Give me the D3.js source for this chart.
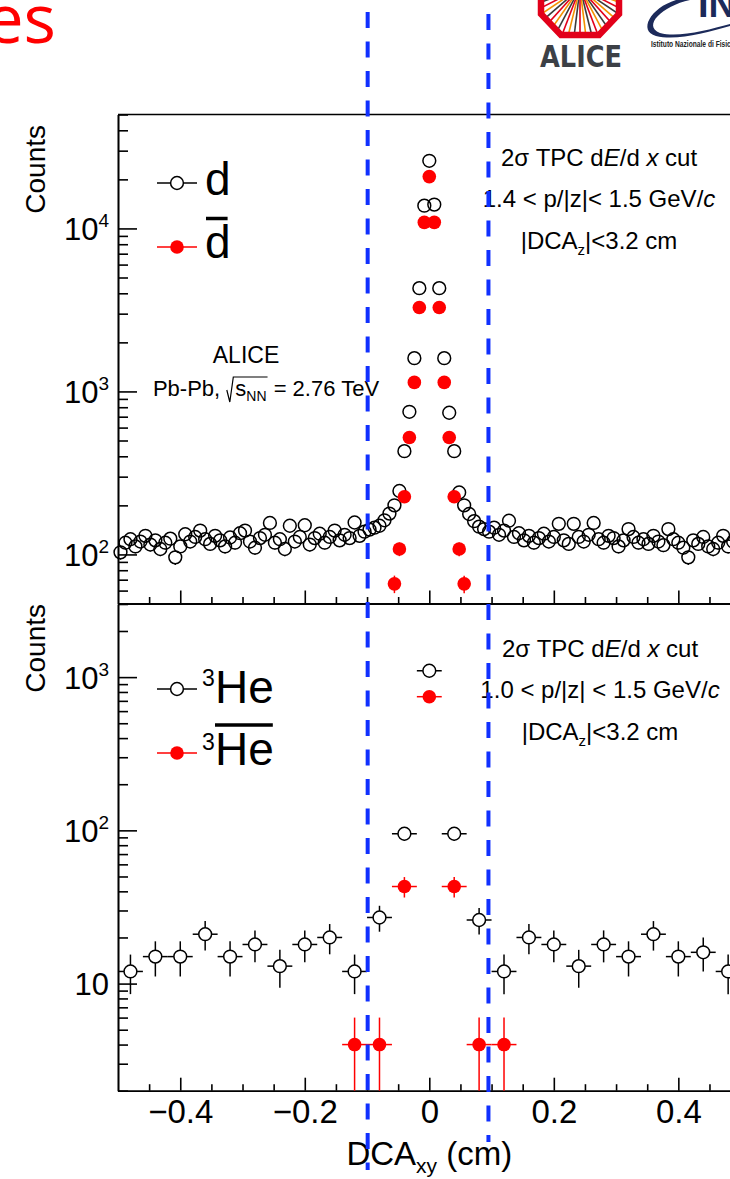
<!DOCTYPE html>
<html>
<head>
<meta charset="utf-8">
<title>DCAxy d / 3He</title>
<script src="https://d3js.org/d3.v7.min.js"></script>
<style>
  body { margin: 0; background: #fff; }
  svg { display: block; }
  text { font-family: "Liberation Sans", Arial, Helvetica, sans-serif; fill: #000; white-space: pre; }
</style>
</head>
<body>
<svg id="canvas" width="730" height="1179"></svg>
<script>
// ---- values ----
var xRange = [-0.5, 0.5];
var dNBins = 125;   // 0.008 cm bins
var heNBins = 25;   // 0.04 cm bins

// deuterons, all 125 bins
var dCounts = [
  103, 118, 124, 112, 120, 130, 115, 122, 108, 118,
  125,  96, 112, 133, 120, 128, 140, 124, 116, 130,
  122, 112, 127, 118, 135, 140, 120, 110, 126, 132,
  156, 118, 124, 108, 150, 120, 128, 151, 115, 126,
  134, 118, 128, 140, 122, 132, 126, 157, 130, 138,
  142, 146, 150, 162, 178, 200, 245, 430, 750, 1600,
  4300, 13800,
  26000,
  14000, 4300, 1600, 740, 430, 240, 200, 177, 160, 148,
  143, 138, 146, 132, 140, 161, 128,
  135, 122, 130, 118, 126, 134, 120, 128, 154, 122,
  116, 154, 128, 120, 132, 156, 124, 118, 130, 126,
  112, 122, 143, 128, 118, 124, 116, 130, 120, 114,
  143, 124, 118, 110,  96, 122, 116, 128, 112, 108,
  118, 130, 112, 120, 116
];
// anti-deuterons: only the bins that show above the axis minimum
var dbarBins   = [55, 56, 57, 58, 59, 60, 61, 62, 63, 64, 65, 66, 67, 68, 69];
var dbarCounts = [66, 108, 226, 522, 1136, 3270, 10900, 20800, 10900, 3270, 1136, 522, 226, 108, 66];

// 3He and anti-3He, 25 bins
var heCounts    = [12, 15, 15, 21, 15, 18, 13, 18, 20, 12, 27, 95, 1100, 95, 26, 12, 20, 18, 13, 18, 15, 21, 15, 16, 12];
var heBarCounts = [0, 0, 0, 0, 0, 0, 0, 0, 0, 4, 4, 43, 745, 43, 4, 4, 0, 0, 0, 0, 0, 0, 0, 0, 0];

var xMajorTicks = [-0.4, -0.2, 0, 0.2, 0.4];
var xMinorTicks = [-0.45, -0.35, -0.3, -0.25, -0.15, -0.1, -0.05, 0.05, 0.1, 0.15, 0.25, 0.3, 0.35, 0.45];
var yTopDomain = [50, 50000];
var yBotDomain = [2, 3000];
var yTopMajor = [1e2, 1e3, 1e4];
var yBotMajor = [1e1, 1e2, 1e3];
var cutLines = [-0.099, 0.095];

// ---- layout ----
var L = 118, R = 740.6;
var topT = 114.5, topB = 603.5, botT = 604, botB = 1090.7;

var svg = d3.select("#canvas");

var x = d3.scaleLinear().domain(xRange).range([L, R]);
var yTop = d3.scaleLog().domain(yTopDomain).range([topB, topT]);
var yBot = d3.scaleLog().domain(yBotDomain).range([botB, botT]);

function binCenters(n) {
  var w = (xRange[1] - xRange[0]) / n;
  return d3.range(n).map(function(i) { return xRange[0] + w * (i + 0.5); });
}
var dX = binCenters(dNBins);
var heX = binCenters(heNBins);

function rich(parent, px, py, size, anchor, parts) {
  var t = parent.append("text").attr("x", px).attr("y", py)
    .attr("text-anchor", anchor || "start").style("font-size", size + "px");
  var cur = 0;
  parts.forEach(function(p) {
    if (typeof p === "string") p = {t: p};
    var s = t.append("tspan").text(p.t);
    var sh = p.dy || 0;
    s.attr("dy", sh - cur); cur = sh;
    if (p.size) s.style("font-size", p.size + "px");
    if (p.it) s.style("font-style", "italic");
  });
  return t;
}

var AX = {stroke: "#000", width: 1.6};

function styleAxis(g) {
  g.selectAll("path.domain").attr("stroke", AX.stroke).attr("stroke-width", AX.width);
  g.selectAll(".tick line").attr("stroke", AX.stroke).attr("stroke-width", AX.width);
}

function drawPanel(yScale, top, bottom, majors, withXLabels) {
  // frame
  svg.append("line").attr("x1", L).attr("x2", R).attr("y1", top).attr("y2", top)
    .attr("stroke", "#000").attr("stroke-width", AX.width);

  // y axis
  var minors = yScale.ticks().filter(function(v) {
    var e = Math.log10(v); return Math.abs(e - Math.round(e)) > 1e-6;
  });
  svg.append("g").attr("transform", "translate(" + L + ",0)")
    .call(d3.axisLeft(yScale).tickValues(minors).tickSize(-10).tickSizeOuter(0).tickFormat(""))
    .call(styleAxis);
  var ya = svg.append("g").attr("transform", "translate(" + L + ",0)")
    .call(d3.axisLeft(yScale).tickValues(majors).tickSize(-19).tickSizeOuter(0).tickFormat(""))
    .call(styleAxis);
  ya.selectAll(".tick").each(function(v) {
    var e = Math.round(Math.log10(v));
    var parts = e === 1 ? ["10"] : ["10", {t: String(e), size: 19, dy: -13}];
    rich(d3.select(this), -9, 11, 31, "end", parts);
  });

  // x axis
  svg.append("g").attr("transform", "translate(0," + bottom + ")")
    .call(d3.axisBottom(x).tickValues(xMinorTicks).tickSize(-6.5).tickSizeOuter(0).tickFormat(""))
    .call(styleAxis);
  var xa = svg.append("g").attr("transform", "translate(0," + bottom + ")")
    .call(d3.axisBottom(x).tickValues(xMajorTicks).tickSize(-13).tickSizeOuter(0).tickFormat(""))
    .call(styleAxis);
  if (withXLabels) {
    xa.selectAll(".tick").append("text").attr("y", 32).attr("text-anchor", "middle")
      .style("font-size", "33px").text(function(v) { return d3.format("")(v); });
  }
}

drawPanel(yTop, topT, topB, yTopMajor, false);
drawPanel(yBot, botT, botB, yBotMajor, true);

// ---- markers ----
var R_OPEN = 6.4, R_FULL = 6.8;

function openErr(g, cx, cy, yHi, yLo, xLo, xHi, color) {
  var segs = [];
  if (yHi < cy - R_OPEN) segs.push([cx, yHi, cx, cy - R_OPEN]);
  if (yLo > cy + R_OPEN) segs.push([cx, cy + R_OPEN, cx, yLo]);
  if (xLo < cx - R_OPEN) segs.push([xLo, cy, cx - R_OPEN, cy]);
  if (xHi > cx + R_OPEN) segs.push([cx + R_OPEN, cy, xHi, cy]);
  segs.forEach(function(s) {
    g.append("line").attr("x1", s[0]).attr("y1", s[1]).attr("x2", s[2]).attr("y2", s[3])
      .attr("stroke", color).attr("stroke-width", 1.5);
  });
}

// top: deuterons
var gTop = svg.append("g");
var dHalfW = (xRange[1] - xRange[0]) / dNBins / 2;
dCounts.forEach(function(n, i) {
  var cx = x(dX[i]), cy = yTop(n), e = Math.sqrt(n);
  openErr(gTop, cx, cy, yTop(n + e), yTop(Math.max(n - e, yTopDomain[0])), x(dX[i] - dHalfW), x(dX[i] + dHalfW), "#000");
});
gTop.selectAll("circle.d").data(dCounts).enter().append("circle")
  .attr("cx", function(d, i) { return x(dX[i]); })
  .attr("cy", function(d) { return yTop(d); })
  .attr("r", R_OPEN).attr("fill", "none").attr("stroke", "#000").attr("stroke-width", 1.5);

dbarCounts.forEach(function(n, j) {
  var cx = x(dX[dbarBins[j]]), e = Math.sqrt(n);
  gTop.append("line").attr("x1", cx).attr("x2", cx)
    .attr("y1", yTop(n + e)).attr("y2", yTop(Math.max(n - e, yTopDomain[0])))
    .attr("stroke", "#ff0000").attr("stroke-width", 1.5);
});
gTop.selectAll("circle.db").data(dbarCounts).enter().append("circle")
  .attr("cx", function(d, j) { return x(dX[dbarBins[j]]); })
  .attr("cy", function(d) { return yTop(d); })
  .attr("r", R_FULL).attr("fill", "#ff0000");

// bottom: 3He
var gBot = svg.append("g");
var heHalfW = (xRange[1] - xRange[0]) / heNBins / 2;
heCounts.forEach(function(n, i) {
  var cx = x(heX[i]), cy = yBot(n), e = Math.sqrt(n);
  openErr(gBot, cx, cy, yBot(n + e), yBot(Math.max(n - e, yBotDomain[0])), x(heX[i] - heHalfW), x(heX[i] + heHalfW), "#000");
});
gBot.selectAll("circle.he").data(heCounts).enter().append("circle")
  .attr("cx", function(d, i) { return x(heX[i]); })
  .attr("cy", function(d) { return yBot(d); })
  .attr("r", R_OPEN).attr("fill", "none").attr("stroke", "#000").attr("stroke-width", 1.5);

heBarCounts.forEach(function(n, i) {
  if (n <= 0) return;
  var cx = x(heX[i]), cy = yBot(n), e = Math.sqrt(n);
  gBot.append("line").attr("x1", cx).attr("x2", cx)
    .attr("y1", yBot(n + e)).attr("y2", yBot(Math.max(n - e, yBotDomain[0])))
    .attr("stroke", "#ff0000").attr("stroke-width", 1.5);
  gBot.append("line").attr("x1", x(heX[i] - heHalfW)).attr("x2", x(heX[i] + heHalfW))
    .attr("y1", cy).attr("y2", cy).attr("stroke", "#ff0000").attr("stroke-width", 1.5);
  gBot.append("circle").attr("cx", cx).attr("cy", cy).attr("r", R_FULL).attr("fill", "#ff0000");
});

// ---- axis titles ----
rich(svg.append("g").attr("transform", "translate(45,125) rotate(-90)"), 0, 0, 28, "end", ["Counts"]);
rich(svg.append("g").attr("transform", "translate(45,604) rotate(-90)"), 0, 0, 28, "end", ["Counts"]);
rich(svg, x(0), 1165, 33, "middle", ["DCA", {t: "xy", size: 21, dy: 8}, {t: "\u00a0(cm)", dy: 0}]);

// ---- legends ----
function legendRow(yy, open) {
  var col = open ? "#000" : "#ff0000";
  if (open) {
    svg.append("line").attr("x1", 157).attr("x2", 177 - R_OPEN).attr("y1", yy).attr("y2", yy).attr("stroke", col).attr("stroke-width", 1.5);
    svg.append("line").attr("x1", 177 + R_OPEN).attr("x2", 197).attr("y1", yy).attr("y2", yy).attr("stroke", col).attr("stroke-width", 1.5);
    svg.append("circle").attr("cx", 177).attr("cy", yy).attr("r", R_OPEN).attr("fill", "none").attr("stroke", col).attr("stroke-width", 1.5);
  } else {
    svg.append("line").attr("x1", 157).attr("x2", 197).attr("y1", yy).attr("y2", yy).attr("stroke", col).attr("stroke-width", 1.5);
    svg.append("circle").attr("cx", 177).attr("cy", yy).attr("r", R_FULL).attr("fill", col);
  }
}
legendRow(183, true);
legendRow(247, false);
rich(svg, 205, 195, 46, "start", ["d"]);
var dbarT = rich(svg, 205, 258, 46, "start", ["d"]);
var bb = dbarT.node().getBBox();
svg.append("line").attr("x1", bb.x + 1).attr("x2", bb.x + bb.width - 3).attr("y1", 218.5).attr("y2", 218.5)
  .attr("stroke", "#000").attr("stroke-width", 3.5);

legendRow(689, true);
legendRow(753, false);
rich(svg, 202, 686, 23, "start", ["3"]);
rich(svg, 215, 703, 46, "start", ["He"]);
rich(svg, 202, 750, 23, "start", ["3"]);
var heT = rich(svg, 215, 765, 46, "start", ["He"]);
var hb = heT.node().getBBox();
svg.append("line").attr("x1", hb.x).attr("x2", hb.x + hb.width - 1).attr("y1", 725).attr("y2", 725)
  .attr("stroke", "#000").attr("stroke-width", 3.5);

// ---- annotations ----
function cutText(cx, y0, pLow) {
  rich(svg, cx, y0, 24, "middle", ["2\u03c3 TPC d", {t: "E", it: true}, "/d ", {t: "x", it: true}, " cut"]);
  rich(svg, cx, y0 + 41, 24, "middle", [pLow + " < p/|z|" + (pLow === "1.0" ? " " : "") + "< 1.5 GeV/", {t: "c", it: true}]);
  rich(svg, cx, y0 + 83, 24, "middle", ["|DCA", {t: "z", size: 15, dy: 6}, {t: "|<3.2 cm", dy: 0}]);
}
cutText(599, 166, "1.4");
cutText(600, 657, "1.0");

rich(svg, 246, 363, 23, "middle", ["ALICE"]);
(function() {
  var g = svg.append("g");
  var t1 = rich(g, 0, 0, 22, "start", ["Pb-Pb,\u00a0"]);
  var w1 = t1.node().getComputedTextLength();
  var radW = 9;
  var t2 = rich(g, w1 + radW, 0, 22, "start", ["s", {t: "NN", size: 14, dy: 5}]);
  var w2 = t2.node().getComputedTextLength();
  var t3 = rich(g, w1 + radW + w2 + 1, 0, 22, "start", ["\u00a0= 2.76 TeV"]);
  var w3 = t3.node().getComputedTextLength();
  g.append("path")
    .attr("d", "M" + (w1 + 0.5) + ",-6 L" + (w1 + 3.5) + ",6 L" + (w1 + 7) + ",-19 L" + (w1 + radW + w2 + 1) + ",-19")
    .attr("fill", "none").attr("stroke", "#000").attr("stroke-width", 1.2);
  var total = w1 + radW + w2 + 1 + w3;
  g.attr("transform", "translate(" + (266 - total / 2) + ",396)");
})();

// ---- slide decorations ----
svg.append("text").attr("x", 56).attr("y", 43).attr("text-anchor", "end")
  .style("font-family", "'Open Sans', 'Noto Sans', sans-serif").style("font-size", "68px")
  .style("fill", "#ff0000").text("es");

// ALICE logo
var logo = svg.append("g");
var octo = "541,-40 541,14 561,35 599,35 619,14 619,-40";
logo.append("clipPath").attr("id", "octClip").append("polygon").attr("points", octo);
var burst = logo.append("g").attr("clip-path", "url(#octClip)");
var burstCols = ["#f39200", "#e2001a", "#3c3c3b"];
d3.range(20, 165, 7).forEach(function(a, k) {
  var rad = a * Math.PI / 180;
  burst.append("line")
    .attr("x1", 580 + 6 * Math.cos(rad)).attr("y1", -12 + 6 * Math.sin(rad))
    .attr("x2", 580 + 60 * Math.cos(rad)).attr("y2", -12 + 60 * Math.sin(rad))
    .attr("stroke", burstCols[k % 3]).attr("stroke-width", 1.6);
});
logo.append("polyline").attr("points", octo).attr("fill", "none")
  .attr("stroke", "#e2001a").attr("stroke-width", 6.5).attr("stroke-linejoin", "miter");
logo.append("text").attr("x", 540).attr("y", 67).attr("textLength", 82).attr("lengthAdjust", "spacingAndGlyphs")
  .style("font-family", "'DejaVu Sans', sans-serif").style("font-weight", "bold").style("font-size", "30px")
  .style("fill", "#3c4046").text("ALICE");

// INFN logo
var infn = svg.append("g");
infn.append("path")
  .attr("d", "M690,0 C662,6 642,26 660,33 C678,38 708,30 730,24 L730,26 C706,33 676,41 656,36 C638,31 650,8 676,0 Z")
  .attr("fill", "#1c2a5a");
infn.append("text").attr("x", 698).attr("y", 17)
  .style("font-weight", "bold").style("font-size", "38px").style("fill", "#1c2a5a").text("INFN");
infn.append("text").attr("transform", "translate(651,47) scale(0.74,1)")
  .style("font-weight", "bold").style("font-size", "9px").style("fill", "#222")
  .text("Istituto Nazionale di Fisica Nucleare");

// cut lines (drawn on top)
cutLines.forEach(function(c, i) {
  svg.append("line").attr("x1", x(c)).attr("x2", x(c))
    .attr("y1", i === 0 ? 12 : 14).attr("y2", i === 0 ? 1170 : 1142)
    .attr("stroke", "#1030ff").attr("stroke-width", 4).attr("stroke-dasharray", "16 13.5");
});
</script>
</body>
</html>
